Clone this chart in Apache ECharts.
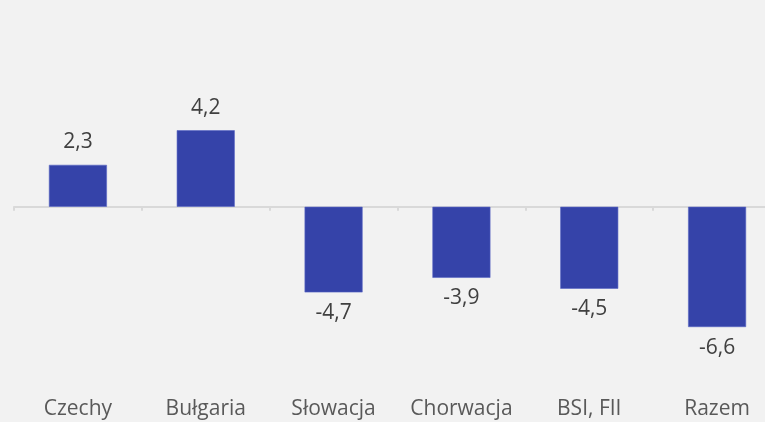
<!DOCTYPE html>
<html>
<head>
<meta charset="utf-8">
<script src="https://cdn.jsdelivr.net/npm/echarts@6/dist/echarts.min.js"></script>
<style>
    html, body { margin: 0; padding: 0; background: #f2f2f2; }
    #chart_main { width: 765px; height: 422px; }
</style>
</head>
<body>
<div id="chart_main"></div>
<script>
// 数据
var categories = ['Czechy', 'Bułgaria', 'Słowacja', 'Chorwacja', 'BSI, FII', 'Razem'];
var values = [2.3, 4.2, -4.7, -3.9, -4.5, -6.6];

function fmt(v) {
    return String(v.toFixed(1)).replace('.', ',');
}

//初始化图表
function initBarChart() {
    var myChart = echarts.init(document.getElementById('chart_main'));

    var barData = values.map(function (v) {
        return {
            value: v,
            label: {
                show: true,
                position: v >= 0 ? 'top' : 'bottom',
                distance: v >= 0 ? 12 : 10,
                formatter: function (p) { return fmt(p.value); }
            }
        };
    });

    var option = {
        backgroundColor: '#f2f2f2',
        animation: false,
        grid: {
            left: 14,
            right: -16,
            top: 61,
            bottom: 33,
            outerBoundsMode: 'none'
        },
        xAxis: [
            {
                type: 'category',
                position: 'bottom',
                data: categories,
                axisLine: { show: false, onZero: false },
                axisTick: { show: false },
                axisLabel: {
                    interval: 0,
                    margin: 10,
                    fontSize: 21,
                    color: '#595959',
                    fontFamily: 'Open Sans'
                }
            },
            {
                type: 'category',
                position: 'top',
                data: categories,
                axisLine: {
                    onZero: true,
                    lineStyle: { color: '#d9d9d9', width: 2 }
                },
                axisTick: {
                    show: true,
                    inside: true,
                    length: 4,
                    lineStyle: { color: '#d9d9d9', width: 2 }
                },
                axisLabel: { show: false }
            }
        ],
        yAxis: {
            type: 'value',
            min: -10,
            max: 8,
            show: false,
            splitLine: { show: false }
        },
        series: [
            {
                type: 'bar',
                xAxisIndex: 0,
                barWidth: 58,
                data: barData,
                itemStyle: {
                    color: '#3543a9',
                    borderColor: '#5966c4',
                    borderWidth: 0.6
                },
                label: {
                    fontSize: 21,
                    color: '#404040',
                    fontFamily: 'Open Sans'
                }
            }
        ]
    };

    myChart.setOption(option);
}

initBarChart();
</script>
</body>
</html>
